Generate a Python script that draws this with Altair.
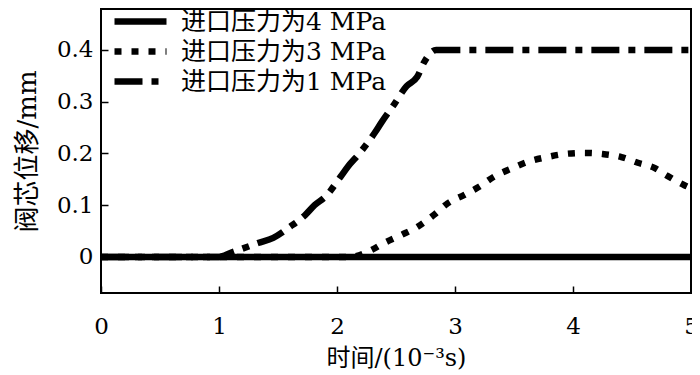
import altair as alt
import pandas as pd

series_names = ["进口压力为4 MPa", "进口压力为3 MPa", "进口压力为1 MPa"]
dash_patterns = [[1, 0], [7, 10], [28, 9, 7, 9]]

t_4 = [0, 5]
y_4 = [0, 0]

t_3 = [0, 2.1, 2.28, 2.4, 2.55, 2.68, 2.82, 2.94, 3.08, 3.2, 3.33, 3.49, 3.62, 3.78,
       3.93, 4.09, 4.25, 4.41, 4.55, 4.69, 4.79, 4.94, 5.0]
y_3 = [0, 0, 0.012, 0.027, 0.043, 0.058, 0.081, 0.104, 0.12, 0.135, 0.155, 0.172, 0.184, 0.193,
       0.199, 0.201, 0.199, 0.193, 0.182, 0.172, 0.158, 0.139, 0.133]

t_1 = [0, 1.0, 1.1, 1.21, 1.33, 1.46, 1.6, 1.73, 1.81, 1.9, 2.03, 2.09, 2.19, 2.32, 2.38,
       2.47, 2.59, 2.68, 2.74, 2.84, 5.0]
y_1 = [0, 0, 0.008, 0.017, 0.027, 0.037, 0.058, 0.081, 0.10, 0.116, 0.155, 0.174, 0.20, 0.24, 0.261,
       0.29, 0.33, 0.348, 0.377, 0.40, 0.40]

x_ticks = [0, 1, 2, 3, 4, 5]
y_ticks = [0, 0.1, 0.2, 0.3, 0.4]

rows = []
for name, ts, ys in [(series_names[1], t_3, y_3), (series_names[2], t_1, y_1), (series_names[0], t_4, y_4)]:
    for t, v in zip(ts, ys):
        rows.append({"series": name, "t": t, "y": v})
df = pd.DataFrame(rows)

SERIF = "DejaVu Serif, Noto Sans CJK SC"

chart = alt.Chart(df).mark_line(
    color="black", strokeWidth=6.5, interpolate="monotone", clip=True
).encode(
    x=alt.X("t:Q",
            scale=alt.Scale(domain=[0, 5], nice=False, zero=False),
            axis=alt.Axis(values=x_ticks, format="d", offset=-7, tickSize=7, tickWidth=1.5,
                          tickColor="black", domain=False, grid=False, labelFlush=False,
                          labelOverlap=False, labelFont=SERIF, labelFontSize=23, labelColor="black",
                          labelPadding=22, title="时间/(10⁻³s)", titleFont=SERIF, titleFontSize=24,
                          titleFontWeight="normal", titleColor="black", titlePadding=8)),
    y=alt.Y("y:Q",
            scale=alt.Scale(domain=[-0.0696, 0.479], nice=False, zero=False),
            axis=alt.Axis(values=y_ticks, format="~g", offset=-7, tickSize=7, tickWidth=1.5,
                          tickColor="black", domain=False, grid=False, labelOverlap=False,
                          labelFont=SERIF, labelFontSize=23, labelColor="black", labelPadding=8,
                          title="阀芯位移/mm", titleFont=SERIF, titleFontSize=26,
                          titleFontWeight="normal", titleColor="black", titlePadding=16)),
    strokeDash=alt.StrokeDash("series:N",
                              scale=alt.Scale(domain=series_names, range=dash_patterns),
                              legend=alt.Legend(title=None, orient="none", legendX=23, legendY=-4,
                                                symbolType="M-2,0H2", symbolSize=676,
                                                symbolStrokeWidth=6.5, symbolStrokeColor="black",
                                                labelFont=SERIF, labelFontSize=25, labelColor="black",
                                                labelOffset=24, rowPadding=-3, padding=0,
                                                labelLimit=400)),
).properties(
    width=590, height=284,
    autosize=alt.AutoSizeParams(type="none"),
    padding={"left": 93, "top": 1, "right": 1, "bottom": 78},
).configure_view(stroke="black", strokeWidth=2)

chart.save("out.html", embed_options={"renderer": "svg", "actions": False})
